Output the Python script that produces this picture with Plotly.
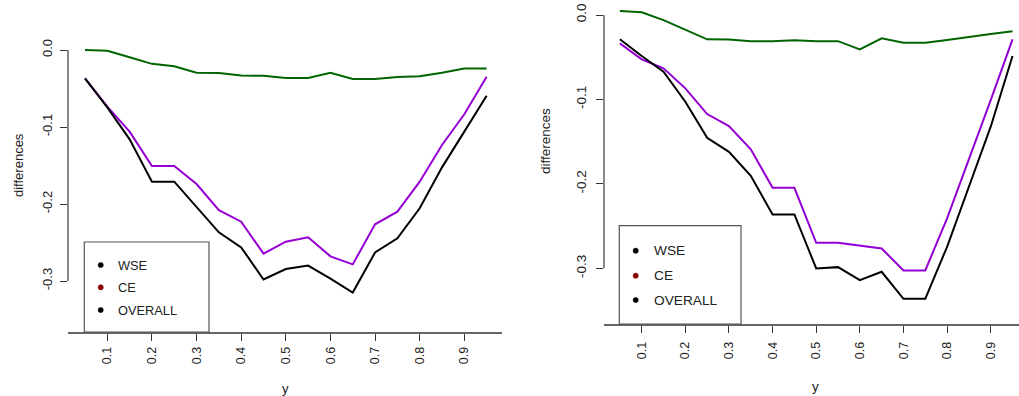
import plotly.graph_objects as go

W, H = 1019, 396

# ---------------- data ----------------
xs = [0.05, 0.10, 0.15, 0.20, 0.25, 0.30, 0.35, 0.40, 0.45, 0.50,
      0.55, 0.60, 0.65, 0.70, 0.75, 0.80, 0.85, 0.90, 0.95]

left_green = [0.000, -0.001, -0.0095, -0.018, -0.021, -0.0295, -0.030, -0.033, -0.0335, -0.0364,
              -0.0364, -0.0295, -0.0377, -0.0377, -0.035, -0.034, -0.0295, -0.024, -0.024]
left_purple = [-0.0368, -0.0736, -0.106, -0.1506, -0.1506, -0.174, -0.208, -0.223, -0.2645, -0.249,
               -0.2433, -0.268, -0.2784, -0.2264, -0.210, -0.171, -0.1234, -0.0835, -0.0346]
left_black = [-0.0368, -0.0745, -0.116, -0.171, -0.171, -0.2035, -0.2368, -0.2563, -0.298, -0.2844,
              -0.280, -0.297, -0.315, -0.263, -0.2446, -0.2056, -0.1524, -0.106, -0.0593]

right_green = [0.0047, 0.0032, -0.006, -0.0178, -0.0288, -0.029, -0.0312, -0.0312, -0.030, -0.031,
               -0.031, -0.0407, -0.0276, -0.0328, -0.0328, -0.0296, -0.0257, -0.0225, -0.0193]
right_purple = [-0.0336, -0.0525, -0.0632, -0.0869, -0.1173, -0.1315, -0.1591, -0.2046, -0.2046, -0.2698,
                -0.2698, -0.2729, -0.2765, -0.3025, -0.3025, -0.2409, -0.1718, -0.1007, -0.0288]
right_black = [-0.0288, -0.0486, -0.0672, -0.1027, -0.1454, -0.162, -0.1904, -0.2362, -0.2362, -0.3001,
               -0.2986, -0.314, -0.3041, -0.3361, -0.3361, -0.2745, -0.2034, -0.1323, -0.0486]

x_tickvals = [0.1, 0.2, 0.3, 0.4, 0.5, 0.6, 0.7, 0.8, 0.9]
x_ticktext = ["0.1", "0.2", "0.3", "0.4", "0.5", "0.6", "0.7", "0.8", "0.9"]
y_tickvals = [0.0, -0.1, -0.2, -0.3]
y_ticktext = ["0.0", "-0.1", "-0.2", "-0.3"]
legend_labels = ["WSE", "CE", "OVERALL"]
legend_dot_colors = ["#000000", "#8B0000", "#000000"]

GREEN = "#006400"
PURPLE = "#9400D3"
BLACK = "#000000"
FONT = "Liberation Sans, Arial, sans-serif"
TXT = "#222222"


def px(p):
    return p / W


def py(p):
    return 1 - p / H


fig = go.Figure()

for xa, ya, g, pu, bl in [("x", "y", left_green, left_purple, left_black),
                          ("x2", "y2", right_green, right_purple, right_black)]:
    fig.add_trace(go.Scatter(x=xs, y=g, mode="lines", line=dict(color=GREEN, width=2),
                             xaxis=xa, yaxis=ya, showlegend=False, name="WSE"))
    fig.add_trace(go.Scatter(x=xs, y=pu, mode="lines", line=dict(color=PURPLE, width=2),
                             xaxis=xa, yaxis=ya, showlegend=False, name="CE"))
    fig.add_trace(go.Scatter(x=xs, y=bl, mode="lines", line=dict(color=BLACK, width=2),
                             xaxis=xa, yaxis=ya, showlegend=False, name="OVERALL"))


def xaxis_style(standoff, fsize):
    return dict(tickvals=x_tickvals, ticktext=x_ticktext, tickangle=-90, ticks="outside",
                ticklen=7, tickcolor="#333", showline=True, linecolor="#666", linewidth=1.5,
                showgrid=False, zeroline=False, tickfont=dict(family=FONT, size=fsize, color=TXT),
                ticklabelstandoff=standoff)


def yaxis_style(standoff, fsize):
    return dict(tickvals=y_tickvals, ticktext=y_ticktext, tickangle=-90, ticks="outside",
                ticklen=7, tickcolor="#333", showline=False, showgrid=False, zeroline=False,
                tickfont=dict(family=FONT, size=fsize, color=TXT), ticklabelstandoff=standoff)


fig.update_layout(
    xaxis=dict(domain=[px(68), px(502)], range=[0.05 - 17 / 446.25, 0.05 + 417 / 446.25],
               anchor="y", **xaxis_style(1, 12.5)),
    yaxis=dict(domain=[py(332), py(0)], range=[-(332 - 50) / 770, 50 / 770],
               anchor="x", **yaxis_style(3, 13)),
    xaxis2=dict(domain=[px(604), 1.0], range=[0.05 - 15.9 / 436.25, 0.05 + 399.1 / 436.25],
                anchor="y2", **xaxis_style(4, 12.5)),
    yaxis2=dict(domain=[py(324), py(0)], range=[-(324 - 15) / 844.4, 15 / 844.4],
                anchor="x2", **yaxis_style(5, 13.5)),
)

shapes = []
# y axis lines from 0.0 to -0.3
for xr, yr in [("x domain", "y"), ("x2 domain", "y2")]:
    shapes.append(dict(type="line", xref=xr, yref=yr, x0=0, x1=0,
                       y0=y_tickvals[0], y1=y_tickvals[-1], line=dict(color="#111", width=1)))

annotations = []
# legends
for (bx0, bx1, by0, by1, dot_x, dot_ys, text_x, fsize) in [
        (84.3, 209, 242, 332, 100.7, [265, 287.3, 310], 116, 12.8),
        (619.3, 741, 225.7, 324, 635.7, [250.7, 275.7, 300], 651.7, 13.7)]:
    shapes.append(dict(type="rect", xref="paper", yref="paper",
                       x0=px(bx0), x1=px(bx1), y0=py(by1), y1=py(by0),
                       line=dict(color="#555", width=1.2), fillcolor="rgba(255,255,255,1)",
                       layer="above"))
    for lab, col, yy in zip(legend_labels, legend_dot_colors, dot_ys):
        r = 2.6
        shapes.append(dict(type="circle", xref="paper", yref="paper",
                           x0=px(dot_x - r), x1=px(dot_x + r), y0=py(yy + r), y1=py(yy - r),
                           line=dict(color=col, width=0.5), fillcolor=col, layer="above"))
        annotations.append(dict(text=lab, xref="paper", yref="paper", x=px(text_x), y=py(yy),
                                xanchor="left", yanchor="middle", showarrow=False,
                                font=dict(family=FONT, size=fsize, color=TXT)))

# axis titles
for (tx, ty, t, ang, fs) in [(18, 165, "differences", -90, 13), (545, 141, "differences", -90, 13.5),
                             (285, 388, "y", 0, 13), (815, 386, "y", 0, 13.5)]:
    annotations.append(dict(text=t, xref="paper", yref="paper", x=px(tx), y=py(ty),
                            xanchor="center", yanchor="middle", showarrow=False, textangle=ang,
                            font=dict(family=FONT, size=fs, color=TXT)))

fig.update_layout(width=W, height=H, margin=dict(l=0, r=0, t=0, b=0),
                  paper_bgcolor="white", plot_bgcolor="white",
                  shapes=shapes, annotations=annotations, showlegend=False)

fig.write_html("out.html")
